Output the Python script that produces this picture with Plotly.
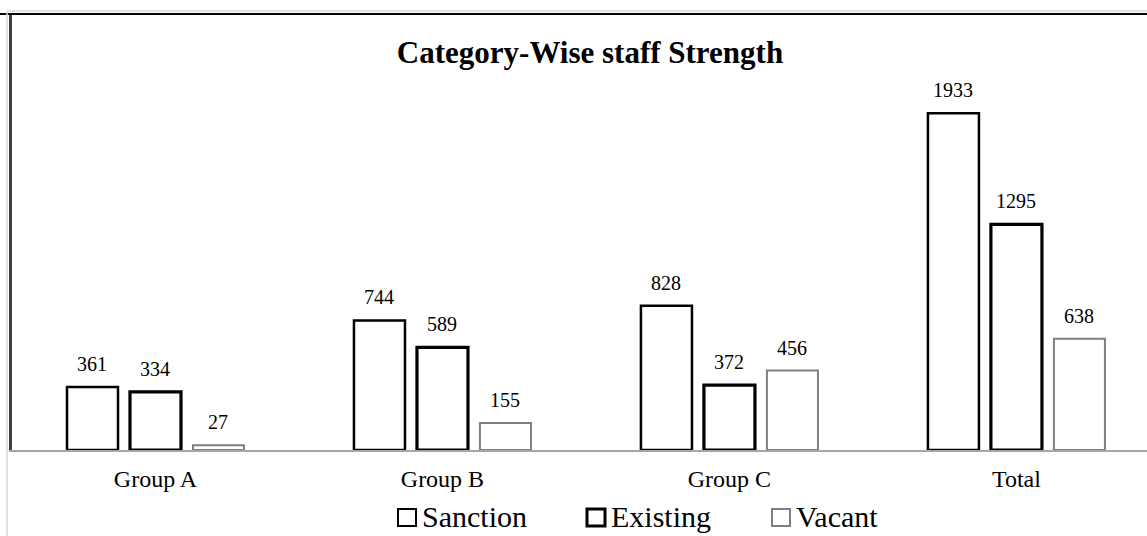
import plotly.graph_objects as go

categories = ["Group A", "Group B", "Group C", "Total"]
sanction = [361, 744, 828, 1933]
existing = [334, 589, 372, 1295]
vacant = [27, 155, 456, 638]
series_names = ["Sanction", "Existing", "Vacant"]

W, H = 1147, 536
ML, MR, MT, MB = 12, 0, 14, 86
pw = W - ML - MR
ph = H - MT - MB

def px2x(px):
    return (px - ML) / pw

def px2y(py):
    return (H - MB - py) / ph

font_family = "Liberation Serif, Times New Roman, serif"

colors = ["#000000", "#000000", "#7f7f7f"]
widths = [2.5, 3.2, 2]
offsets_px = [-63, 0, 63]

fig = go.Figure()
for name, vals, col, lw, off in zip(series_names, [sanction, existing, vacant], colors, widths, offsets_px):
    fig.add_trace(go.Bar(
        name=name, x=categories, y=vals,
        marker=dict(color="white", line=dict(color=col, width=lw)),
        showlegend=False,
    ))
    for c, v in zip(categories, vals):
        fig.add_annotation(x=c, y=v, xref="x", yref="y", text=str(v),
                           showarrow=False, xshift=off, yshift=10,
                           yanchor="bottom",
                           font=dict(family=font_family, size=20, color="black"))

fig.update_layout(
    width=W, height=H,
    margin=dict(l=ML, r=MR, t=MT, b=MB),
    paper_bgcolor="white", plot_bgcolor="white",
    barmode="group", bargap=0.3415, bargroupgap=0.19,
    font=dict(family=font_family, color="black"),
    title=dict(text="<b>Category-Wise staff Strength</b>",
               font=dict(family=font_family, size=31, color="black"),
               x=590 / W, xanchor="center",
               y=1 - 52 / H, yanchor="middle"),
    xaxis=dict(range=[-0.5, 3.455], showgrid=False, showline=True,
               linecolor="#a6a6a6", linewidth=2, ticks="",
               ticklabelstandoff=6,
               tickfont=dict(family=font_family, size=24, color="black")),
    yaxis=dict(range=[0, 2503], showgrid=False, showticklabels=False,
               showline=True, linecolor="#404040", linewidth=2.5, ticks="",
               zeroline=False),
    showlegend=False,
)

# custom legend (squares + labels)
leg_sq_left = [398, 587, 772]
for name, col, lw, sx in zip(series_names, colors, [2, 3, 2], leg_sq_left):
    fig.add_shape(type="rect", xref="paper", yref="paper",
                  x0=px2x(sx), x1=px2x(sx + 18), y0=px2y(509), y1=px2y(526),
                  line=dict(color=col, width=lw), fillcolor="white")
    fig.add_annotation(xref="paper", yref="paper", x=px2x(sx + 22), y=px2y(516),
                       xanchor="left", yanchor="middle", showarrow=False,
                       text=name, font=dict(family=font_family, size=30, color="black"))

# decorative frame lines
fig.add_shape(type="line", xref="paper", yref="paper",
              x0=px2x(0), x1=1, y0=1, y1=1,
              line=dict(color="black", width=2))
fig.add_shape(type="line", xref="paper", yref="paper",
              x0=px2x(7), x1=1, y0=px2y(11), y1=px2y(11),
              line=dict(color="#d9d9d9", width=1.5))
fig.add_shape(type="line", xref="paper", yref="paper",
              x0=px2x(7), x1=px2x(7), y0=px2y(11), y1=px2y(536),
              line=dict(color="#d9d9d9", width=1.5))

fig.write_html("out.html", config={"displayModeBar": False},
               post_script="document.body.style.margin='0';document.body.style.padding='0';")
